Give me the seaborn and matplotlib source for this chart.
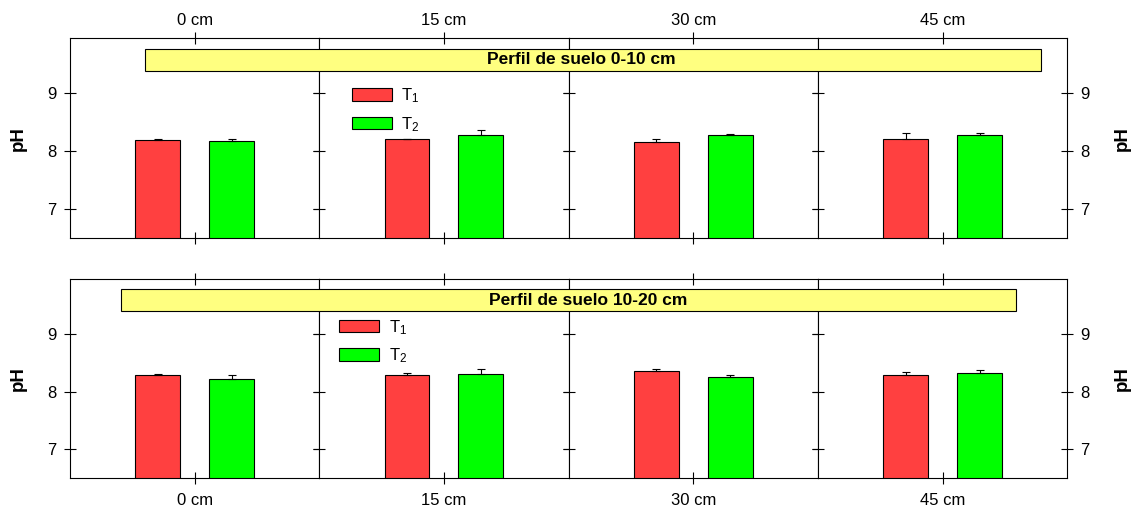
import matplotlib
matplotlib.use("Agg")
import matplotlib.pyplot as plt
import seaborn as sns
import pandas as pd
from matplotlib.patches import Rectangle

# ---------------- data ----------------
depths = ["0 cm", "15 cm", "30 cm", "45 cm"]
treatments = ["T$_1$", "T$_2$"]
profiles = ["Perfil de suelo 0-10 cm", "Perfil de suelo 10-20 cm"]

p1_t1 = [8.20, 8.21, 8.155, 8.21]
p1_t1_err = [0.01, 0.005, 0.06, 0.10]
p1_t2 = [8.17, 8.29, 8.29, 8.29]
p1_t2_err = [0.05, 0.07, 0.005, 0.025]

p2_t1 = [8.28, 8.29, 8.35, 8.295]
p2_t1_err = [0.03, 0.035, 0.035, 0.045]
p2_t2 = [8.22, 8.31, 8.26, 8.325]
p2_t2_err = [0.075, 0.09, 0.03, 0.05]

yticks = [7, 8, 9]

rows = []
for prof, t1, e1, t2, e2 in [(profiles[0], p1_t1, p1_t1_err, p1_t2, p1_t2_err),
                             (profiles[1], p2_t1, p2_t1_err, p2_t2, p2_t2_err)]:
    for d, v, e in zip(depths, t1, e1):
        rows.append(dict(profile=prof, depth=d, trt=treatments[0], pH=v, err=e))
    for d, v, e in zip(depths, t2, e2):
        rows.append(dict(profile=prof, depth=d, trt=treatments[1], pH=v, err=e))
df = pd.DataFrame(rows)

palette = {treatments[0]: "#FF4040", treatments[1]: "#00FF00"}

# ---------------- style ----------------
sns.set_theme(style="ticks")
plt.rcParams["font.family"] = ["Liberation Sans", "DejaVu Sans"]
plt.rcParams["mathtext.default"] = "regular"
plt.rcParams["text.color"] = "black"
plt.rcParams["axes.labelcolor"] = "black"

W, H = 1137, 513
fig = plt.figure(figsize=(W / 100, H / 100), dpi=100)


def fx(px):
    return px / W


def fy(py):
    return 1 - py / H


left = 70.0
colw = 249.3
panel_geo = [(38.3, 238.3), (279.0, 478.3)]
banner_geo = [(145, 1041, 48.7, 71.0, 581), (121, 1016, 289.0, 311.3, 588)]
legend_anchor = [(0.131, 0.76), (0.081, 0.805)]

for r, prof in enumerate(profiles):
    top, bottom = panel_geo[r]
    for j, d in enumerate(depths):
        ax = fig.add_axes([fx(left + j * colw), fy(bottom), colw / W, (bottom - top) / H])
        sub = df[(df.profile == prof) & (df.depth == d)]
        sns.barplot(data=sub, x="depth", y="pH", hue="trt", hue_order=treatments,
                    palette=palette, saturation=1, width=0.593, gap=0.393,
                    edgecolor="black", linewidth=0.8, errorbar=None,
                    legend=(j == 1), ax=ax)
        for cont, t in zip(ax.containers, treatments):
            row = sub[sub.trt == t].iloc[0]
            for bar in cont:
                xc = bar.get_x() + bar.get_width() / 2
                ax.errorbar([xc], [bar.get_height()], yerr=[[0], [row.err]],
                            fmt="none", ecolor="black", elinewidth=0.8,
                            capsize=3, capthick=0.8, zorder=3)
        ax.set_xlim(-0.5, 0.5)
        ax.set_ylim(6.5, 9.95)
        ax.set_yticks(yticks)
        ax.set_xlabel("")
        ax.set_ylabel("")
        for s in ax.spines.values():
            s.set_visible(True)
            s.set_color("black")
            s.set_linewidth(0.8)
        ax.tick_params(axis="both", direction="inout", length=9, width=0.8,
                       colors="black", labelsize=12)
        ax.tick_params(axis="y", left=True, right=True, labelleft=(j == 0),
                       labelright=(j == 3), pad=5)
        ax.tick_params(axis="x", top=True, bottom=True, labeltop=(r == 0),
                       labelbottom=(r == 1), pad=(3 if r == 0 else 6))
        if j == 1:
            sns.move_legend(ax, loc="upper left", bbox_to_anchor=legend_anchor[r],
                            frameon=False, title=None, fontsize=12,
                            handlelength=2.4, handleheight=0.78, labelspacing=0.6,
                            handletextpad=0.55, borderpad=0, borderaxespad=0)
            for txt in ax.get_legend().get_texts():
                txt.set_color("black")
    # y labels
    ymid = (top + bottom) / 2
    fig.text(fx(18.5), fy(ymid), "pH", rotation=90, ha="center", va="center",
             fontsize=13.5, fontweight="bold", color="black")
    fig.text(fx(1122), fy(ymid), "pH", rotation=90, ha="center", va="center",
             fontsize=13.5, fontweight="bold", color="black")
    # banner
    x0, x1, y0, y1, xt = banner_geo[r]
    fig.add_artist(Rectangle((fx(x0), fy(y1)), (x1 - x0) / W, (y1 - y0) / H,
                             transform=fig.transFigure, facecolor="#FFFF80",
                             edgecolor="black", linewidth=0.8, zorder=5))
    fig.text(fx(xt), fy((y0 + y1) / 2), prof, ha="center", va="center",
             fontsize=12.5, fontweight="bold", color="black", zorder=6)

fig.savefig("out.png", dpi=100)
